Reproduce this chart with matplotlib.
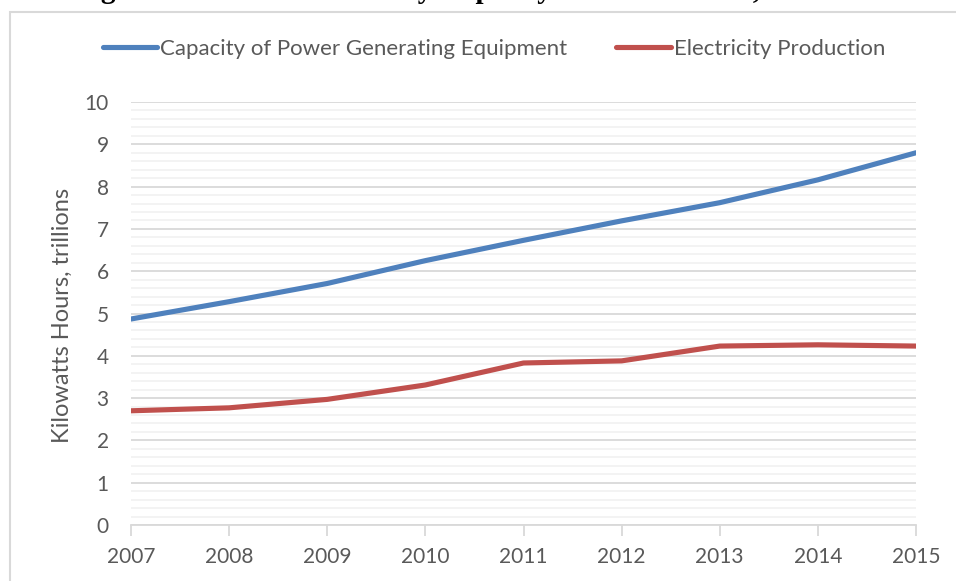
import numpy as np
import matplotlib
matplotlib.use('Agg')
import matplotlib.pyplot as plt
from matplotlib.patches import Rectangle
from matplotlib.ticker import MultipleLocator

# values (trillion kWh)
years = [2007, 2008, 2009, 2010, 2011, 2012, 2013, 2014, 2015]
capacity = [4.87, 5.28, 5.71, 6.25, 6.73, 7.19, 7.62, 8.16, 8.80]
production = [2.70, 2.77, 2.97, 3.31, 3.83, 3.88, 4.23, 4.26, 4.23]

series_names = ['Capacity of Power Generating Equipment', 'Electricity Production']
series_colors = ['#4F81BD', '#C0504D']
title = 'Figure 3: Chinese Electricity Capacity and Production, 2007-2015'

plt.rcParams['font.family'] = ['Lato', 'DejaVu Sans']
grey_text = '#595959'

fig = plt.figure(figsize=(9.56, 5.81), dpi=100)
ax = fig.add_axes([131 / 956, 56 / 581, 785 / 956, 423 / 581])

ax.plot(years, capacity, color=series_colors[0], lw=3.7, solid_capstyle='round', label=series_names[0])
ax.plot(years, production, color=series_colors[1], lw=3.7, solid_capstyle='round', label=series_names[1])

ax.set_xlim(years[0], years[-1])
ax.set_ylim(0, 10)
ax.set_xticks(years)
ax.yaxis.set_major_locator(MultipleLocator(1))
ax.yaxis.set_minor_locator(MultipleLocator(0.2))
ax.grid(which='major', axis='y', color='#d9d9d9', lw=1.3)
ax.grid(which='minor', axis='y', color='#f2f2f2', lw=1.3)
ax.set_axisbelow(True)

for s in ['top', 'right', 'left']:
    ax.spines[s].set_visible(False)
ax.spines['bottom'].set_color('#d9d9d9')
ax.spines['bottom'].set_linewidth(1.3)
ax.tick_params(axis='x', direction='out', length=8, width=1.3, color='#d9d9d9',
               labelsize=15, labelcolor=grey_text, pad=8)
ax.tick_params(axis='y', which='both', length=0, labelsize=15, labelcolor=grey_text, pad=16)

fig.text(62 / 956, 1 - 315 / 581, 'Kilowatts Hours, trillions', rotation=90, ha='center', va='center',
         fontsize=17, color=grey_text)

fig.legend(loc='center', bbox_to_anchor=(494 / 956, 1 - 49 / 581), ncol=2, frameon=False,
           fontsize=16, labelcolor=grey_text, handlelength=2.45, handletextpad=0.14,
           columnspacing=2.2)

# outer chart border, cropped on the right and bottom
fig.patches.append(Rectangle((10 / 956, -0.05), 1.2, 1 - 12 / 581 + 0.05, transform=fig.transFigure,
                             fill=False, edgecolor='#d9d9d9', lw=1.5, clip_on=False))

# title line of the page: only its descenders reach into the crop
fig.text(75 / 956, 1 + 1.5 / 581, title, ha='left', va='baseline', fontsize=21.1,
         family='Liberation Serif', weight='bold', color='black')

fig.savefig('out.png', dpi=100)
